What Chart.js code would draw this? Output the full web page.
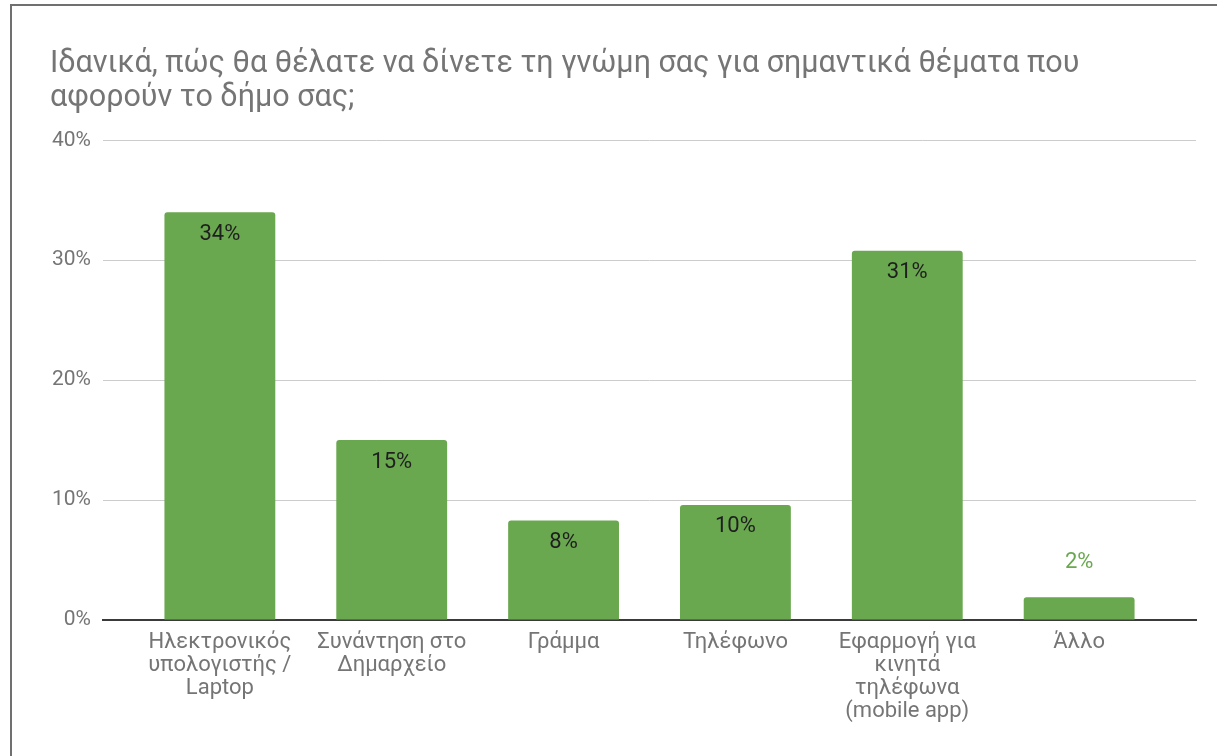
<!DOCTYPE html>
<html>
<head>
<meta charset="utf-8">
<script src="https://cdn.jsdelivr.net/npm/chart.js@4"></script>
<style>
  html, body { margin: 0; padding: 0; background: #fff; }
  #wrap { position: relative; width: 1217px; height: 756px; overflow: hidden; }
  #frame {
    position: absolute; left: 10px; top: 4px; right: -4px; bottom: -4px;
    border-top: 2px solid #707070; border-left: 2px solid #707070;
    pointer-events: none;
  }
  canvas { position: absolute; left: 0; top: 0; }
</style>
</head>
<body>
<div id="wrap">
  <canvas id="chart" width="1217" height="756"></canvas>
  <div id="frame"></div>
</div>
<script>
const titleLines = [
  "Ιδανικά, πώς θα θέλατε να δίνετε τη γνώμη σας για σημαντικά θέματα που",
  "αφορούν το δήμο σας;"
];
const categories = [
  ["Ηλεκτρονικός", "υπολογιστής /", "Laptop"],
  ["Συνάντηση στο", "Δημαρχείο"],
  ["Γράμμα"],
  ["Τηλέφωνο"],
  ["Εφαρμογή για", "κινητά", "τηλέφωνα", "(mobile app)"],
  ["Άλλο"]
];
const values = [34.0, 15.0, 8.3, 9.6, 30.8, 1.9];
const yTicks = [0, 10, 20, 30, 40];

const green = "#6aa84f";
const grey = "#757575";

// draw the percentage on top of each bar, like Sheets does
const barLabels = {
  id: "barLabels",
  afterDatasetsDraw(chart) {
    const ctx = chart.ctx;
    const meta = chart.getDatasetMeta(0);
    ctx.save();
    ctx.font = "22px Roboto";
    ctx.textAlign = "center";
    ctx.textBaseline = "middle";
    meta.data.forEach((bar, i) => {
      const txt = Math.round(values[i]) + "%";
      const h = bar.base - bar.y;
      if (h > 45) {
        ctx.fillStyle = "#1f1f1f";
        ctx.fillText(txt, bar.x, bar.y + 22);
      } else {
        ctx.fillStyle = green;
        ctx.fillText(txt, bar.x, bar.y - 35);
      }
    });
    ctx.restore();
  }
};

const xPad = 0.68;

new Chart(document.getElementById("chart"), {
  type: "bar",
  data: {
    datasets: [{
      data: values.map((v, i) => ({ x: i, y: v })),
      backgroundColor: green,
      hoverBackgroundColor: green,
      borderRadius: { topLeft: 3, topRight: 3 },
      borderSkipped: "bottom",
      categoryPercentage: 1,
      barPercentage: 0.645
    }]
  },
  options: {
    responsive: false,
    animation: false,
    layout: { padding: { left: 50, right: 21, top: 0, bottom: 0 } },
    plugins: {
      legend: { display: false },
      tooltip: { enabled: false },
      title: {
        display: true,
        text: titleLines,
        align: "start",
        color: grey,
        font: { family: "Roboto", size: 30.5, weight: "normal", lineHeight: 1.12 },
        padding: { top: 47, bottom: 25 }
      }
    },
    scales: {
      x: {
        type: "linear",
        offset: false,
        min: -xPad,
        max: categories.length - 1 + xPad,
        afterBuildTicks: s => { s.ticks = categories.map((c, i) => ({ value: i })); },
        afterFit: s => { s.height = 136; },
        grid: { display: false, drawTicks: false },
        border: { display: true, color: "#3a3a3a", width: 2 },
        ticks: {
          autoSkip: false,
          maxRotation: 0,
          padding: 11,
          color: grey,
          font: { family: "Roboto", size: 22, lineHeight: 1.05 },
          callback: v => categories[v]
        }
      },
      y: {
        min: 0,
        max: 40,
        afterBuildTicks: s => { s.ticks = yTicks.map(v => ({ value: v })); },
        afterFit: s => { s.width = 53; },
        grid: { color: "#cccccc", lineWidth: 1, drawTicks: false },
        border: { display: false },
        ticks: {
          padding: 12,
          color: grey,
          font: { family: "Roboto", size: 21 },
          callback: v => v + "%"
        }
      }
    }
  },
  plugins: [barLabels]
});
</script>
</body>
</html>
